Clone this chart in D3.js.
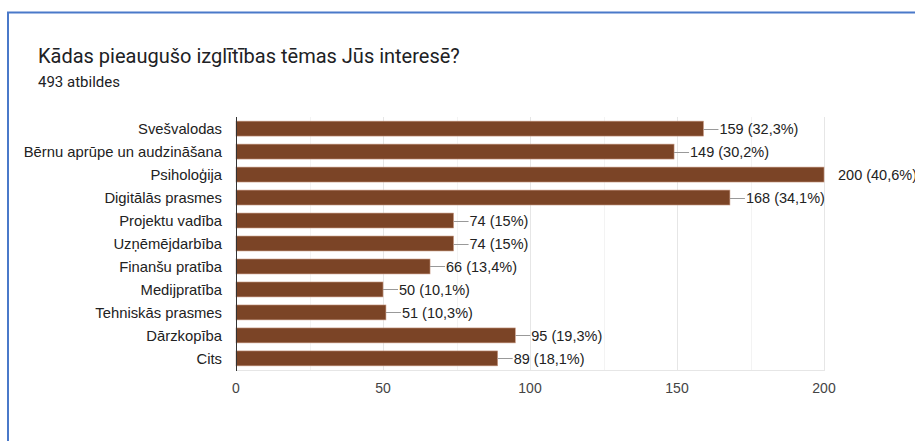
<!DOCTYPE html>
<html>
<head>
<meta charset="utf-8">
<script src="https://cdn.jsdelivr.net/npm/d3@7"></script>
<style>
  body { margin: 0; background: #fff; }
  svg { display: block; }
</style>
</head>
<body>
<svg></svg>
<script>
let categories = ['Svešvalodas', 'Bērnu aprūpe un audzināšana', 'Psiholoģija', 'Digitālās prasmes',
    'Projektu vadība', 'Uzņēmējdarbība', 'Finanšu pratība', 'Medijpratība',
    'Tehniskās prasmes', 'Dārzkopība', 'Cits']
let values = [159, 149, 200, 168, 74, 74, 66, 50, 51, 95, 89]
let percents = ['32,3%', '30,2%', '40,6%', '34,1%', '15%', '15%', '13,4%', '10,1%', '10,3%', '19,3%', '18,1%']
let ticks = [0, 50, 100, 150, 200]
let minorTicks = [25, 75, 125, 175]

let width = 915
let height = 441
let plotLeft = 236
let plotRight = 824
let plotTop = 117
let plotBottom = 370

let svg = d3.select('svg')
    .attr('width', width)
    .attr('height', height)

// card border (top and left only)
svg.append('line')
   .attr('x1', 7).attr('x2', width).attr('y1', 12.5).attr('y2', 12.5)
   .attr('stroke', '#4a79c9').attr('stroke-width', 2)
svg.append('line')
   .attr('x1', 8).attr('x2', 8).attr('y1', 12).attr('y2', height)
   .attr('stroke', '#4a79c9').attr('stroke-width', 2)

svg.append('text')
   .text('Kādas pieaugušo izglītības tēmas Jūs interesē?')
   .attr('x', 38).attr('y', 63)
   .attr('font-family', 'Roboto').attr('font-size', 20)
   .attr('fill', '#202124')

svg.append('text')
   .text('493 atbildes')
   .attr('x', 38).attr('y', 87)
   .attr('font-family', 'Roboto').attr('font-size', 15)
   .attr('fill', '#202124')

let x = d3.scaleLinear().domain([0, 200]).range([plotLeft, plotRight])
let y = d3.scaleBand().domain(categories).range([plotTop, plotBottom]).paddingInner(0.35).paddingOuter(0.18)

// gridlines
svg.selectAll('.minor')
   .data(minorTicks)
   .enter()
   .append('line')
   .attr('x1', d => Math.round(x(d)) + 0.5).attr('x2', d => Math.round(x(d)) + 0.5)
   .attr('y1', plotTop).attr('y2', plotBottom)
   .attr('stroke', '#f3f3f3')

svg.selectAll('.major')
   .data(ticks.slice(1))
   .enter()
   .append('line')
   .attr('x1', d => Math.round(x(d)) + 0.5).attr('x2', d => Math.round(x(d)) + 0.5)
   .attr('y1', plotTop).attr('y2', plotBottom)
   .attr('stroke', '#e6e6e6')

svg.append('line')
   .attr('x1', plotLeft).attr('x2', plotRight + 1).attr('y1', plotBottom + 0.5).attr('y2', plotBottom + 0.5)
   .attr('stroke', '#e6e6e6')

// bars
svg.selectAll('rect')
   .data(values)
   .enter()
   .append('rect')
   .attr('x', plotLeft)
   .attr('y', (d, i) => y(categories[i]))
   .attr('width', d => x(d) - plotLeft)
   .attr('height', y.bandwidth())
   .attr('fill', '#7b4426')
   .attr('stroke', '#c89a84')
   .attr('stroke-width', 0.6)

// leader lines and value labels
values.forEach((d, i) => {
    let cy = y(categories[i]) + y.bandwidth() / 2
    let xe = x(d)
    let lx = d === 200 ? xe + 14 : xe + 16
    if (d !== 200) {
        svg.append('line')
           .attr('x1', xe).attr('x2', xe + 15)
           .attr('y1', Math.round(cy) + 0.5).attr('y2', Math.round(cy) + 0.5)
           .attr('stroke', '#999')
    }
    svg.append('text')
       .text(d + ' (' + percents[i] + ')')
       .attr('x', lx).attr('y', cy)
       .attr('dy', '0.36em')
       .attr('font-family', 'Liberation Sans, Arial').attr('font-size', 14.5)
       .attr('fill', '#222')
})

// axis line
svg.append('line')
   .attr('x1', plotLeft + 0.5).attr('x2', plotLeft + 0.5).attr('y1', plotTop).attr('y2', plotBottom + 1)
   .attr('stroke', '#333')

// category labels
svg.selectAll('.cat')
   .data(categories)
   .enter()
   .append('text')
   .text(d => d)
   .attr('x', 222)
   .attr('y', d => y(d) + y.bandwidth() / 2)
   .attr('dy', '0.36em')
   .attr('text-anchor', 'end')
   .attr('font-family', 'Liberation Sans, Arial').attr('font-size', 14.8)
   .attr('fill', '#222')

// tick labels
svg.selectAll('.tick')
   .data(ticks)
   .enter()
   .append('text')
   .text(d => d)
   .attr('x', d => x(d))
   .attr('y', 392.5)
   .attr('text-anchor', 'middle')
   .attr('font-family', 'Liberation Sans, Arial').attr('font-size', 14)
   .attr('fill', '#444')
</script>
</body>
</html>
